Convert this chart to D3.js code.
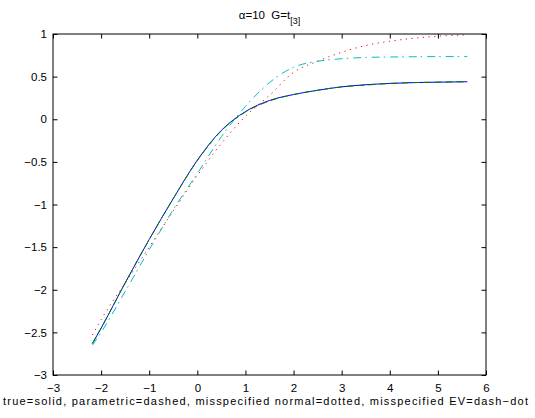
<!DOCTYPE html>
<html>
<head>
<meta charset="utf-8">
<script src="https://cdn.jsdelivr.net/npm/d3@7"></script>
<style>
  html, body { margin: 0; padding: 0; background: #fff; }
  text { font-family: "Liberation Sans", Arial, Helvetica, sans-serif; }
</style>
</head>
<body>
<svg id="chart" width="535" height="418"></svg>
<script>
// ---- data ----
const xTicks = [-3, -2, -1, 0, 1, 2, 3, 4, 5, 6];
const yTicks = [-3, -2.5, -2, -1.5, -1, -0.5, 0, 0.5, 1];
const titleMain = "\u03B1=10  G=t";
const titleSub = "[3]";
const xLabel = "true=solid, parametric=dashed, misspecified normal=dotted, misspecified EV=dash\u2212dot";

const xs = [-2.18, -2, -1.5, -1, -0.5, 0, 0.5, 1, 1.5, 2, 2.5, 3, 3.5, 4, 4.5, 5, 5.61];
const trueVals      = [-2.63, -2.45, -1.92, -1.41, -0.93, -0.48, -0.13, 0.09, 0.22, 0.29, 0.34, 0.38, 0.405, 0.42, 0.43, 0.435, 0.44];
const paramVals     = [-2.63, -2.45, -1.92, -1.41, -0.93, -0.485, -0.135, 0.085, 0.215, 0.29, 0.34, 0.38, 0.40, 0.42, 0.43, 0.435, 0.44];
const normalVals    = [-2.53, -2.35, -1.92, -1.50, -1.075, -0.66, -0.285, 0.035, 0.28, 0.55, 0.68, 0.785, 0.865, 0.915, 0.95, 0.975, 0.99];
const evVals        = [-2.65, -2.50, -2.02, -1.53, -1.06, -0.635, -0.205, 0.15, 0.43, 0.61, 0.68, 0.71, 0.725, 0.73, 0.733, 0.735, 0.735];

// ---- layout ----
const svg = d3.select("#chart");
const L = 53, R = 486, T = 34, B = 375;
const x = d3.scaleLinear().domain([-3, 6]).range([L, R]);
const y = d3.scaleLinear().domain([-3, 1]).range([B, T]);

const fmt = v => (v < 0 ? "\u2212" : "") + Math.abs(v);

// ---- curves ----
const series = [
  { vals: trueVals,   color: "#0000ff", dash: null },
  { vals: paramVals,  color: "#008000", dash: "7,4" },
  { vals: normalVals, color: "#ff0000", dash: "1.2,4.5" },
  { vals: evVals,     color: "#00bfbf", dash: "8,4,1.5,5" }
];
const line = d3.line().curve(d3.curveMonotoneX);
const g = svg.append("g");
series.forEach(s => {
  g.append("path")
    .attr("d", line(xs.map((xv, i) => [x(xv), y(s.vals[i])])))
    .attr("fill", "none")
    .attr("stroke", s.color)
    .attr("stroke-width", 1)
    .attr("stroke-dasharray", s.dash);
});

// ---- axes (MATLAB style: ticks inside, box) ----
const tl = 4.5;
const axB = svg.append("g").attr("transform", `translate(0,${B})`)
  .call(d3.axisBottom(x).tickValues(xTicks).tickSize(-tl).tickPadding(9).tickFormat(fmt));
const axT = svg.append("g").attr("transform", `translate(0,${T})`)
  .call(d3.axisTop(x).tickValues(xTicks).tickSize(-tl).tickFormat(""));
const axL = svg.append("g").attr("transform", `translate(${L},0)`)
  .call(d3.axisLeft(y).tickValues(yTicks).tickSize(-tl).tickPadding(6).tickFormat(fmt));
const axR = svg.append("g").attr("transform", `translate(${R},0)`)
  .call(d3.axisRight(y).tickValues(yTicks).tickSize(-tl).tickFormat(""));
[axB, axT, axL, axR].forEach(a => {
  a.selectAll(".tick line").attr("stroke", "#000").attr("stroke-width", 1);
  a.selectAll(".tick text").attr("fill", "#000").style("font-size", "11.5px")
   .style("font-family", "'Liberation Sans', Arial, sans-serif");
});
svg.selectAll(".domain").remove();
svg.append("rect").attr("x", L).attr("y", T).attr("width", R - L).attr("height", B - T)
  .attr("fill", "none").attr("stroke", "#000").attr("stroke-width", 1);

// ---- title ----
const title = svg.append("text").attr("x", (L + R) / 2).attr("y", 19)
  .attr("text-anchor", "middle").style("font-size", "11.5px").style("white-space", "pre")
  .attr("xml:space", "preserve").attr("fill", "#000");
title.append("tspan").text(titleMain);
title.append("tspan").attr("dy", 5).style("font-size", "9px").text(titleSub);

// ---- x label ----
svg.append("text").attr("x", 3).attr("y", 404.5)
  .attr("textLength", 525).attr("lengthAdjust", "spacing")
  .style("font-size", "11px").attr("fill", "#000")
  .text(xLabel);
</script>
</body>
</html>
